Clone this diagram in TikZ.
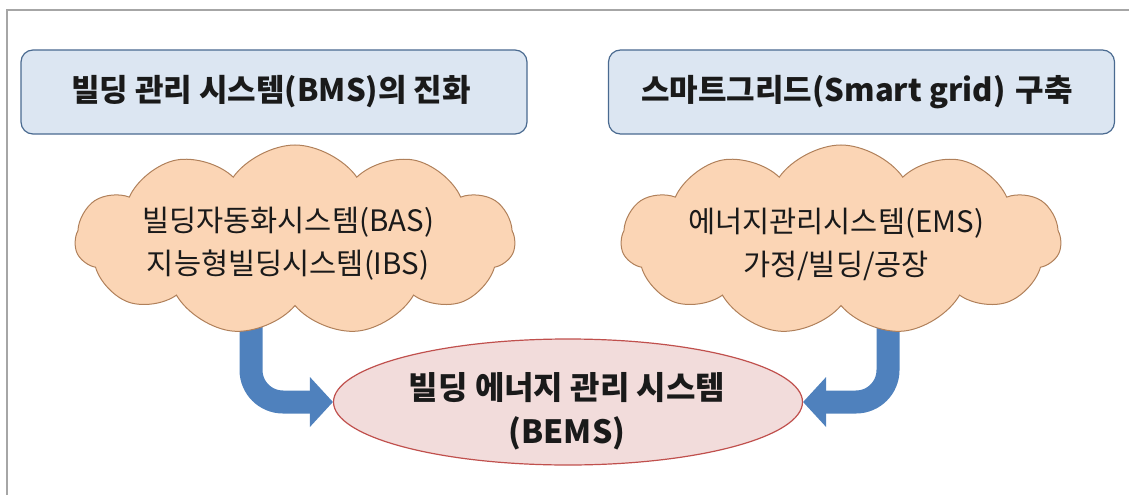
\documentclass[tikz,border=0pt]{standalone}
\usepackage{fontspec}
\setmainfont{Noto Sans CJK KR}
\usetikzlibrary{shapes.symbols,shapes.geometric,calc}
\definecolor{boxfill}{HTML}{DCE6F2}
\definecolor{boxdraw}{HTML}{4A6A90}
\definecolor{cloudfill}{HTML}{FBD5B5}
\definecolor{clouddraw}{HTML}{B0805A}
\definecolor{ellfill}{HTML}{F2DCDB}
\definecolor{elldraw}{HTML}{C0504D}
\definecolor{arrowblue}{HTML}{4F81BD}
\definecolor{framegray}{HTML}{A6A6A6}
\definecolor{txt}{HTML}{1A1A1A}
\begin{document}
\begin{tikzpicture}[x=1pt,y=-1pt,
  titlebox/.style={draw=boxdraw, line width=1.2pt, fill=boxfill, rounded corners=12pt, minimum width=506pt, minimum height=84pt, inner sep=0pt},
  titletext/.style={font=\fontsize{31}{36}\selectfont\bfseries, text=txt, inner sep=0pt},
  cloudshape/.style={cloud, cloud puffs=11, cloud puff arc=110, draw=clouddraw, fill=cloudfill, line width=1pt, minimum width=440pt, minimum height=190pt, inner sep=0pt, aspect=2.35},
  cloudtext/.style={align=center, font=\fontsize{29.5}{43}\selectfont, text=txt, inner sep=0pt},
  target/.style={ellipse, draw=elldraw, fill=ellfill, line width=1.2pt, minimum width=469pt, minimum height=126pt, inner sep=0pt},
  targettext/.style={align=center, font=\fontsize{32}{44}\selectfont\bfseries, text=txt, inner sep=0pt},
  shaft/.style={draw=arrowblue, line width=23pt, rounded corners=32pt},
  head/.style={fill=arrowblue}
]
\useasboundingbox (0,0) rectangle (1129,495);
% frame
\coordinate (f1) at (7,495);
\coordinate (f2) at (7,10);
\coordinate (f3) at (1129,10);
\draw[framegray, line width=1.5pt] (f1) -- (f2) -- (f3);

% title boxes
\node[titlebox] (boxL) at (274,92) {};
\node[titletext] (boxLt) at (271,92) {빌딩 관리 시스템(BMS)의 진화};
\node[titlebox] (boxR) at (861.5,92) {};
\node[titletext] (boxRt) at (857,92) {스마트그리드(Smart grid)\hspace{0.1em} 구축};

% target ellipse
\node[target] (bems) at (568,402) {};
\node[targettext] (bemst) at (567,411) {빌딩 에너지 관리 시스템\\(BEMS)};

% arrows (drawn before clouds)
\coordinate (la0) at (251,300);
\coordinate (la1) at ($(bems.west)+(-22,0)$);
\draw[shaft] (la0) |- (la1);
\fill[head] ($(bems.west)+(-23,-25)$) -- (bems.west) -- ($(bems.west)+(-23,25)$) -- cycle;
\coordinate (ra0) at (888,300);
\coordinate (ra1) at ($(bems.east)+(22,0)$);
\draw[shaft] (ra0) |- (ra1);
\fill[head] ($(bems.east)+(23,-25)$) -- (bems.east) -- ($(bems.east)+(23,25)$) -- cycle;

% clouds
\node[cloudshape] (cloudL) at (295,240) {};
\node[cloudtext] (cloudLt) at (288,244) {빌딩자동화시스템(BAS)\\지능형빌딩시스템(IBS)};
\node[cloudshape] (cloudR) at (841,240) {};
\node[cloudtext] (cloudRt) at (836,244) {에너지관리시스템(EMS)\\가정/빌딩/공장};
\end{tikzpicture}
\end{document}
